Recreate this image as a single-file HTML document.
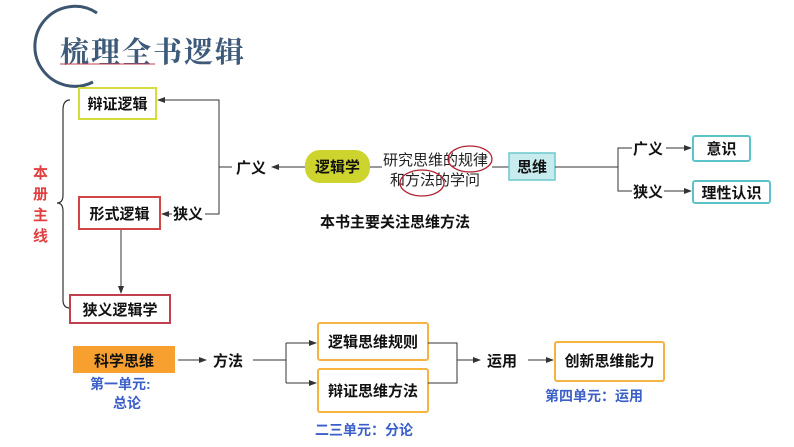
<!DOCTYPE html>
<html><head><meta charset="utf-8"><style>
body{margin:0;background:#fff}
svg{display:block}
text{font-family:"Liberation Sans","Noto Sans CJK SC",sans-serif}
.b{font-weight:bold;font-size:15px;fill:#111}
.bl{font-weight:bold;font-size:14px;fill:#3a5fc8}
</style></head><body>
<svg width="794" height="447" viewBox="0 0 794 447" xmlns="http://www.w3.org/2000/svg">
<defs><marker id="a" markerWidth="8" markerHeight="8" refX="7" refY="4" orient="auto" markerUnits="userSpaceOnUse"><path d="M0,1 L8,4 L0,7z" fill="#333"/></marker></defs>
<path d="M97,13 A40,40 0 1 0 93,82" fill="none" stroke="#3d5570" stroke-width="3"/>
<text x="60" y="62" font-size="29" font-weight="bold" fill="#3d5a7a" style="font-family:'Noto Serif CJK SC',serif" letter-spacing="2">梳理全书逻辑</text>
<line x1="60" y1="64" x2="155" y2="64" stroke="#c04050" stroke-width="1"/>
<path d="M70,100 Q63,100 63,110 L63,195 Q63,203 57,203 Q63,203 63,211 L63,300 Q63,308 70,308" fill="none" stroke="#333" stroke-width="1.2"/>
<text x="33" y="178" font-size="15" font-weight="bold" fill="#e04040">本</text>
<text x="33" y="199" font-size="15" font-weight="bold" fill="#e04040">册</text>
<text x="33" y="220" font-size="15" font-weight="bold" fill="#e04040">主</text>
<text x="33" y="241" font-size="15" font-weight="bold" fill="#e04040">线</text>
<rect x="79" y="88" width="77" height="31" fill="#fff" stroke="#d4dc3c" stroke-width="2"/>
<text x="117.5" y="109" class="b" text-anchor="middle">辩证逻辑</text>
<rect x="79" y="197" width="81" height="32" fill="#fff" stroke="#d04545" stroke-width="2"/>
<text x="119.5" y="219" class="b" text-anchor="middle">形式逻辑</text>
<rect x="70" y="295" width="100" height="28" fill="#fff" stroke="#c04050" stroke-width="2"/>
<text x="120" y="315" class="b" text-anchor="middle">狭义逻辑学</text>
<path d="M219,167 V100 H158" fill="none" stroke="#333" stroke-width="1" marker-end="url(#a)"/>
<path d="M232,167 H219 M205,214 H219 V167" fill="none" stroke="#333" stroke-width="1"/>
<line x1="172" y1="214" x2="162" y2="214" stroke="#333" marker-end="url(#a)"/>
<text x="236" y="173" class="b">广义</text>
<text x="173" y="219" class="b">狭义</text>
<line x1="305" y1="167" x2="272" y2="167" stroke="#333" marker-end="url(#a)"/>
<line x1="121" y1="230" x2="121" y2="293" stroke="#333" marker-end="url(#a)"/>
<rect x="305" y="150" width="65" height="33" rx="15" fill="#cdd42e"/>
<text x="337.5" y="172" class="b" text-anchor="middle">逻辑学</text>
<line x1="370" y1="167" x2="382" y2="167" stroke="#333"/>
<text x="383" y="165" font-size="15" fill="#222">研究思维的规律</text>
<text x="390" y="185" font-size="15" fill="#222">和方法的学问</text>
<line x1="492" y1="167" x2="509" y2="167" stroke="#333"/>
<ellipse cx="470" cy="159" rx="22" ry="13" fill="none" stroke="#b02030" stroke-width="1.3"/>
<ellipse cx="422" cy="183" rx="22" ry="13" fill="none" stroke="#b02030" stroke-width="1.3"/>
<rect x="509" y="153" width="46" height="27" fill="#c8ecee" stroke="#6cc9cc" stroke-width="1.5"/>
<text x="532" y="172" class="b" text-anchor="middle">思维</text>
<path d="M555,167 H618 M632,148 H618 V191 H632" fill="none" stroke="#333"/>
<text x="633" y="154" class="b">广义</text>
<text x="633" y="197" class="b">狭义</text>
<line x1="666" y1="148" x2="691" y2="148" stroke="#333" marker-end="url(#a)"/>
<line x1="664" y1="191" x2="691" y2="191" stroke="#333" marker-end="url(#a)"/>
<rect x="693" y="136" width="57" height="25" rx="2" fill="#fff" stroke="#5cc4c8" stroke-width="2"/>
<text x="721.5" y="154" class="b" text-anchor="middle">意识</text>
<rect x="693" y="181" width="77" height="22" rx="2" fill="#fff" stroke="#5cc4c8" stroke-width="2"/>
<text x="731.5" y="198" class="b" text-anchor="middle">理性认识</text>
<text x="320" y="227" class="b">本书主要关注思维方法</text>
<rect x="73" y="346" width="102" height="27" fill="#f7a030"/>
<text x="124" y="366" class="b" text-anchor="middle">科学思维</text>
<text x="90" y="389" class="bl">第一单元:</text>
<text x="113" y="408" class="bl">总论</text>
<line x1="178" y1="360" x2="206" y2="360" stroke="#333" marker-end="url(#a)"/>
<text x="213" y="366" class="b">方法</text>
<path d="M253,360 H286 M286,343 V383" fill="none" stroke="#333"/>
<line x1="286" y1="343" x2="316" y2="343" stroke="#333" marker-end="url(#a)"/>
<line x1="286" y1="383" x2="316" y2="383" stroke="#333" marker-end="url(#a)"/>
<rect x="318" y="323" width="110" height="37" rx="2" fill="#fff" stroke="#f5b342" stroke-width="2"/>
<text x="373" y="347" class="b" text-anchor="middle">逻辑思维规则</text>
<rect x="318" y="369" width="110" height="43" rx="2" fill="#fff" stroke="#f5b342" stroke-width="2"/>
<text x="373" y="396" class="b" text-anchor="middle">辩证思维方法</text>
<path d="M428,343 H457 V383 H428" fill="none" stroke="#333"/>
<line x1="457" y1="360" x2="480" y2="360" stroke="#333" marker-end="url(#a)"/>
<text x="487" y="366" class="b">运用</text>
<line x1="528" y1="360" x2="553" y2="360" stroke="#333" marker-end="url(#a)"/>
<rect x="555" y="342" width="109" height="39" rx="2" fill="#fff" stroke="#f5b342" stroke-width="2"/>
<text x="609.5" y="366" class="b" text-anchor="middle">创新思维能力</text>
<text x="545" y="401" class="bl">第四单元：运用</text>
<text x="315" y="435" class="bl">二三单元：分论</text>
</svg>
</body></html>
